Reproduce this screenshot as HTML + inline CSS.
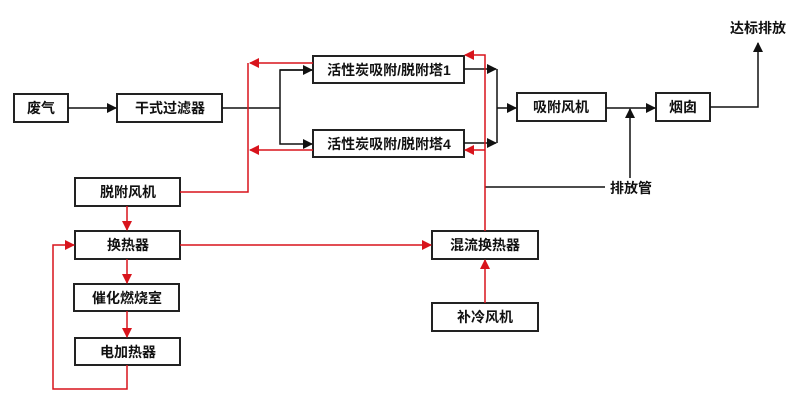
<!DOCTYPE html>
<html><head><meta charset="utf-8"><style>
html,body{margin:0;padding:0;background:#fff;width:800px;height:415px;overflow:hidden}
svg text{font-family:"Liberation Sans","Noto Sans CJK SC",sans-serif;font-weight:bold;font-size:14px;fill:#111;text-anchor:middle;dominant-baseline:central}
</style></head><body>
<svg width="800" height="415" viewBox="0 0 800 415" xmlns="http://www.w3.org/2000/svg">
<defs>
<marker id="ab" markerWidth="10" markerHeight="10" refX="9" refY="5" orient="auto" markerUnits="userSpaceOnUse"><path d="M0,0 L10,5 L0,10 z" fill="#111"/></marker>
<marker id="ar" markerWidth="10" markerHeight="10" refX="9" refY="5" orient="auto" markerUnits="userSpaceOnUse"><path d="M0,0 L10,5 L0,10 z" fill="#d8141c"/></marker>
</defs>
<g fill="#fff" stroke="#222" stroke-width="2">
<rect x="14" y="94" width="54" height="28"/>
<rect x="117" y="94" width="105" height="28"/>
<rect x="313" y="56" width="151" height="27"/>
<rect x="313" y="130" width="151" height="27"/>
<rect x="517" y="93" width="89" height="28"/>
<rect x="656" y="93" width="54" height="28"/>
<rect x="75" y="178" width="105" height="28"/>
<rect x="75" y="231" width="105" height="28"/>
<rect x="74" y="284" width="105" height="27"/>
<rect x="75" y="338" width="105" height="27"/>
<rect x="432" y="231" width="106" height="28"/>
<rect x="432" y="303" width="106" height="28"/>
</g>
<g stroke="#111" stroke-width="1.5" fill="none">
<line x1="68" y1="108" x2="116" y2="108" marker-end="url(#ab)"/>
<line x1="222" y1="108" x2="280" y2="108"/>
<polyline points="312,70 280,70 280,144 312,144" marker-end="url(#ab)"/>
<line x1="280" y1="70" x2="312" y2="70" marker-end="url(#ab)"/>
<line x1="464" y1="69" x2="496" y2="69" marker-end="url(#ab)"/>
<line x1="464" y1="143" x2="496" y2="143" marker-end="url(#ab)"/>
<line x1="497" y1="69" x2="497" y2="143"/>
<line x1="497" y1="108" x2="516" y2="108" marker-end="url(#ab)"/>
<line x1="606" y1="108" x2="655" y2="108" marker-end="url(#ab)"/>
<line x1="630" y1="178" x2="630" y2="109" marker-end="url(#ab)"/>
<line x1="485" y1="187" x2="605" y2="187"/>
<polyline points="710,107 758,107 758,43" marker-end="url(#ab)"/>
</g>
<g stroke="#d8141c" stroke-width="1.5" fill="none">
<polyline points="180,192 248,192 248,63"/>
<line x1="313" y1="63" x2="250" y2="63" marker-end="url(#ar)"/>
<line x1="313" y1="150" x2="250" y2="150" marker-end="url(#ar)"/>
<polyline points="485,231 485,55 465,55" marker-end="url(#ar)"/>
<line x1="485" y1="150" x2="465" y2="150" marker-end="url(#ar)"/>
<line x1="127" y1="206" x2="127" y2="230" marker-end="url(#ar)"/>
<line x1="127" y1="259" x2="127" y2="283" marker-end="url(#ar)"/>
<line x1="127" y1="311" x2="127" y2="337" marker-end="url(#ar)"/>
<polyline points="127,365 127,389 53,389 53,245 74,245" marker-end="url(#ar)"/>
<line x1="180" y1="245" x2="431" y2="245" marker-end="url(#ar)"/>
<line x1="485" y1="303" x2="485" y2="260" marker-end="url(#ar)"/>
</g>
<text x="41" y="108">废气</text>
<text x="170" y="108">干式过滤器</text>
<text x="389" y="70">活性炭吸附/脱附塔1</text>
<text x="389" y="144">活性炭吸附/脱附塔4</text>
<text x="561" y="107">吸附风机</text>
<text x="683" y="107">烟囱</text>
<text x="128" y="192">脱附风机</text>
<text x="128" y="245">换热器</text>
<text x="127" y="298">催化燃烧室</text>
<text x="128" y="352">电加热器</text>
<text x="485" y="245">混流换热器</text>
<text x="485" y="317">补冷风机</text>
<text x="631" y="188">排放管</text>
<text x="758" y="28">达标排放</text>
</svg>
</body></html>
